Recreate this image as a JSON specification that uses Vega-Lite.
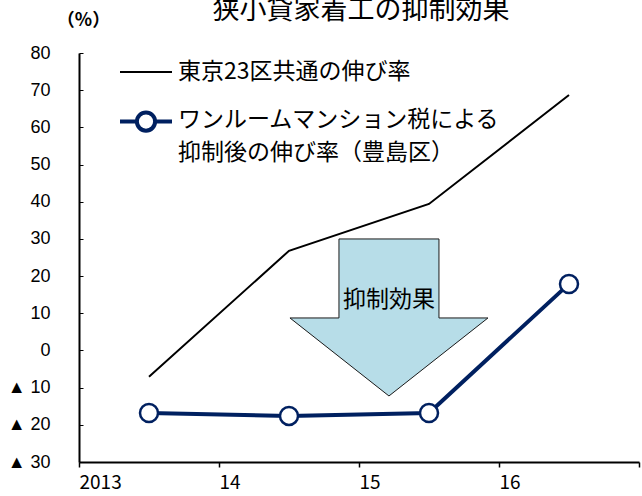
{
  "$schema": "https://vega.github.io/schema/vega-lite/v6.json",
  "width": 560,
  "height": 409,
  "autosize": {"type": "none"},
  "padding": {"left": 79, "top": 53, "right": 3, "bottom": 34},
  "background": "white",
  "title": {
    "text": "狭小貸家着工の抑制効果",
    "font": "Noto Sans CJK JP",
    "fontSize": 27,
    "fontWeight": "normal",
    "color": "black",
    "anchor": "middle",
    "baseline": "alphabetic",
    "offset": -35,
    "dx": 2
  },
  "config": {
    "view": {"stroke": null}
  },
  "datasets": {
    "growth": [
      {"year": 2013.5, "rate": -7.1, "series": "東京23区共通の伸び率"},
      {"year": 2014.5, "rate": 26.8, "series": "東京23区共通の伸び率"},
      {"year": 2015.5, "rate": 39.4, "series": "東京23区共通の伸び率"},
      {"year": 2016.5, "rate": 68.7, "series": "東京23区共通の伸び率"},
      {"year": 2013.5, "rate": -16.8, "series": "ワンルームマンション税による抑制後の伸び率（豊島区）"},
      {"year": 2014.5, "rate": -17.6, "series": "ワンルームマンション税による抑制後の伸び率（豊島区）"},
      {"year": 2015.5, "rate": -16.8, "series": "ワンルームマンション税による抑制後の伸び率（豊島区）"},
      {"year": 2016.5, "rate": 17.9, "series": "ワンルームマンション税による抑制後の伸び率（豊島区）"}
    ],
    "effect": [
      {"year": 2015.214, "rate": 8.74, "label": "抑制効果", "labelRate": 13.6}
    ]
  },
  "encoding": {
    "x": {
      "field": "year",
      "type": "quantitative",
      "scale": {"domain": [2013, 2017], "nice": false, "zero": false},
      "axis": {
        "title": null,
        "grid": false,
        "values": [2013, 2014, 2015, 2016, 2017],
        "labelExpr": "datum.value == 2013 ? '2013' : (datum.value == 2017 ? '' : substring(toString(datum.value), 2))",
        "labelAlign": "left",
        "labelBaseline": "top",
        "labelFlush": false,
        "labelOverlap": false,
        "labelFont": "Noto Sans CJK JP",
        "labelFontSize": 19,
        "labelColor": "black",
        "labelPadding": 6,
        "tickSize": 5,
        "tickWidth": 1.5,
        "tickColor": "black",
        "domainColor": "black",
        "domainWidth": 2
      }
    },
    "y": {
      "field": "rate",
      "type": "quantitative",
      "scale": {"domain": [-30, 80], "nice": false, "zero": false},
      "axis": {
        "title": "（%）",
        "grid": false,
        "titleAngle": 0,
        "titleX": 4,
        "titleY": -33,
        "titleAlign": "center",
        "titleBaseline": "middle",
        "titleFont": "Noto Sans CJK JP",
        "titleFontSize": 18,
        "titleFontWeight": "bold",
        "titleColor": "black",
        "values": [-30, -20, -10, 0, 10, 20, 30, 40, 50, 60, 70, 80],
        "labelExpr": "datum.value < 0 ? '▲ ' + abs(datum.value) : datum.label",
        "labelFont": "Liberation Sans",
        "labelFontSize": 18,
        "labelColor": "black",
        "labelPadding": 33,
        "labelOverlap": false,
        "labelSeparation": 0,
        "tickSize": -4,
        "tickWidth": 1,
        "tickColor": "black",
        "domainColor": "black",
        "domainWidth": 2
      }
    }
  },
  "layer": [
    {
      "data": {"values": [{}]},
      "mark": {"type": "rule", "color": "black", "strokeWidth": 1},
      "encoding": {
        "x": {"datum": 2013},
        "x2": {"datum": 2017},
        "y": {"datum": 0}
      }
    },
    {
      "data": {"name": "effect"},
      "mark": {
        "type": "point",
        "shape": "M-0.505,-0.798L0.505,-0.798L0.505,0L1,0L0,0.788L-1,0L-0.505,0Z",
        "size": 39204,
        "filled": true,
        "fill": "#b7dde8",
        "stroke": "#1a1a1a",
        "strokeWidth": 1,
        "opacity": 1
      }
    },
    {
      "data": {"name": "effect"},
      "mark": {"type": "text", "font": "Noto Sans CJK JP", "fontSize": 23, "color": "black", "align": "center", "baseline": "middle"},
      "encoding": {
        "y": {"field": "labelRate", "type": "quantitative"},
        "text": {"field": "label"}
      }
    },
    {
      "data": {"name": "growth"},
      "mark": {"type": "line", "strokeCap": "butt", "strokeJoin": "miter"},
      "encoding": {
        "color": {
          "field": "series",
          "type": "nominal",
          "scale": {
            "domain": ["東京23区共通の伸び率", "ワンルームマンション税による抑制後の伸び率（豊島区）"],
            "range": ["#000000", "#002060"]
          },
          "legend": {
            "orient": "none",
            "legendX": 39,
            "legendY": -8,
            "title": null,
            "padding": 0,
            "symbolSize": 2704,
            "symbolStrokeWidth": 2,
            "labelFont": "Noto Sans CJK JP",
            "labelFontSize": 23,
            "labelColor": "black",
            "labelLimit": 600,
            "labelOffset": 4,
            "rowPadding": 8,
            "labelExpr": "length(datum.label) > 12 ? [substring(datum.label, 0, 14), substring(datum.label, 14)] : datum.label",
            "encode": {
              "symbols": {
                "update": {
                  "shape": {"signal": "length(datum.value) > 12 ? 'M-1,0.06L-0.35,0.06M0.35,0.06L1,0.06M-0.35,0.06A0.35,0.35 0 1,1 0.35,0.06A0.35,0.35 0 1,1 -0.35,0.06' : 'M-1,0L1,0'"},
                  "fill": {"signal": "length(datum.value) > 12 ? 'white' : 'transparent'"},
                  "strokeWidth": {"signal": "length(datum.value) > 12 ? 3.5 : 2"},
                  "opacity": {"value": 1}
                }
              },
              "labels": {
                "update": {"lineHeight": {"value": 33}}
              }
            }
          }
        },
        "strokeWidth": {
          "field": "series",
          "type": "ordinal",
          "scale": {
            "domain": ["東京23区共通の伸び率", "ワンルームマンション税による抑制後の伸び率（豊島区）"],
            "range": [2, 4]
          },
          "legend": null
        }
      }
    },
    {
      "data": {"name": "growth"},
      "transform": [{"filter": "indexof(datum.series, '豊島') >= 0"}],
      "mark": {"type": "point", "shape": "circle", "filled": true, "fill": "white", "stroke": "#002060", "strokeWidth": 2.5, "size": 324, "opacity": 1}
    }
  ]
}
